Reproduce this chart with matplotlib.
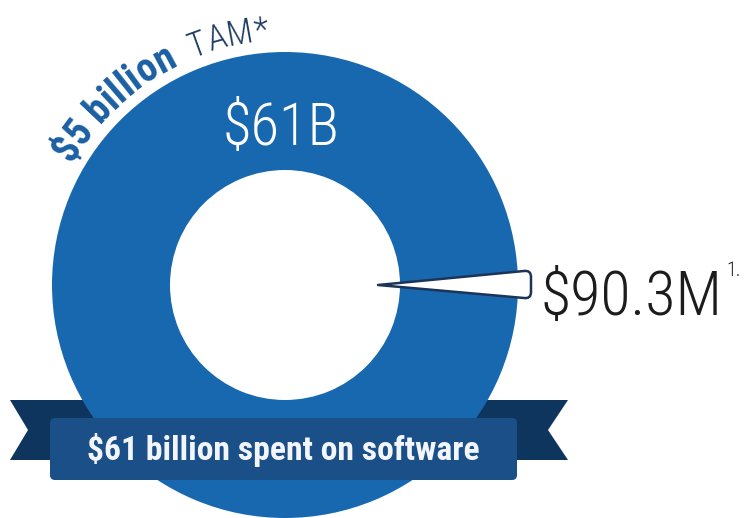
import numpy as np
import matplotlib
matplotlib.use("Agg")
import matplotlib.pyplot as plt
from matplotlib import font_manager
from matplotlib.font_manager import FontProperties
from matplotlib.patches import Wedge, Polygon, FancyBboxPatch, PathPatch
from matplotlib.path import Path

# ---- figures shown on the graphic ----
total_spend_billion = 61.0
total_label = "$61B"
segment_million = 90.3
segment_label = "$90.3M"
segment_note = "1."
tam_bold = "$5 billion"
tam_light = "TAM*"
banner_text = "$61 billion spent on software"

# ---- palette ----
RING = "#1868b0"
BANNER = "#1b4f88"
TAIL = "#0e355e"
TAM_BLUE = "#1b5fa3"
TAM_NAVY = "#1f3c63"
POINTER_EDGE = "#1b3457"
DARK_TEXT = "#1c1c1c"

W, H = 747, 518
fig = plt.figure(figsize=(W / 100, H / 100), dpi=100)
ax = fig.add_axes([0, 0, 1, 1])
ax.set_xlim(0, W)
ax.set_ylim(H, 0)
ax.axis("off")
renderer = fig.canvas.get_renderer()

installed = {f.name for f in font_manager.fontManager.ttflist}


def families(cands):
    return [c for c in cands if c in installed] + ["DejaVu Sans"]


COND = families(["Roboto Condensed", "Liberation Sans Narrow", "Open Sans Condensed", "Roboto"])
LIGHT = FontProperties(family=COND, weight="light", stretch="condensed")
HEAVY = FontProperties(family=COND, weight="black", stretch="condensed")


def text_w(s, fp):
    w, h, d = renderer.get_text_width_height_descent(s, fp, ismath=False)
    return w


def cap_h(fp):
    w, h, d = renderer.get_text_width_height_descent("H", fp, ismath=False)
    return h - d


def sized(fp, s, width=None, cap=None):
    ref = fp.copy()
    ref.set_size(100)
    sizes = []
    if width:
        sizes.append(100 * width / text_w(s, ref))
    if cap:
        sizes.append(100 * cap / cap_h(ref))
    out = fp.copy()
    out.set_size(min(sizes))
    return out


def advance(s, fp):
    if not s:
        return 0.0
    return text_w(s + "|", fp) - text_w("|", fp)


def arc_text(s, fp, color, center, radius, start_deg):
    """Lay characters along a circular baseline, running clockwise."""
    acx, acy = center
    for i, ch in enumerate(s):
        a0 = advance(s[:i], fp)
        a1 = advance(s[:i + 1], fp)
        if ch == " ":
            continue
        th = np.radians(start_deg) - (a0 + a1) / 2 / radius
        x = acx + radius * np.cos(th)
        y = acy - radius * np.sin(th)
        ax.text(x, y, ch, fontproperties=fp, color=color, ha="center", va="baseline",
                rotation=np.degrees(th) - 90, rotation_mode="anchor",
                parse_math=False, zorder=5)


# ---- ring ----
cx, cy = 285, 285
r_out, ring_w = 233, 118

# ribbon tails sit behind the ring
tail_top, tail_bot = 400, 460
left_tail = [(10, tail_top), (130, tail_top), (130, tail_bot), (10, tail_bot), (28, 430)]
right_tail = [(568, tail_top), (440, tail_top), (440, tail_bot), (568, tail_bot), (548, 430)]
for pts in (left_tail, right_tail):
    ax.add_patch(Polygon(pts, closed=True, facecolor=TAIL, edgecolor="none", zorder=1))

share = 360.0 * total_spend_billion / total_spend_billion
ax.add_patch(Wedge((cx, cy), r_out, 0, share, width=ring_w, facecolor=RING,
                   edgecolor="none", zorder=2))

# ---- pointer for the small segment ----
tip = (378, 285)
verts = [tip, (524, 271), (531, 270), (531, 277), (531, 292), (531, 299), (524, 298), tip]
codes = [Path.MOVETO, Path.LINETO, Path.CURVE3, Path.CURVE3, Path.LINETO,
         Path.CURVE3, Path.CURVE3, Path.CLOSEPOLY]
ax.add_patch(PathPatch(Path(verts, codes), facecolor="white", edgecolor=POINTER_EDGE,
                       linewidth=1.8, joinstyle="round", zorder=4))

# ---- value labels ----
fp61 = sized(LIGHT, total_label, width=117, cap=48)
ax.text(281.5, 145, total_label, fontproperties=fp61, color="white", ha="center",
        va="baseline", parse_math=False, zorder=5)

fp90 = sized(LIGHT, segment_label, width=182, cap=53)
ax.text(540, 315, segment_label, fontproperties=fp90, color=DARK_TEXT, ha="left",
        va="baseline", parse_math=False, zorder=5)
fpn = sized(LIGHT, segment_note, width=18, cap=14)
ax.text(726, 276, segment_note, fontproperties=fpn, color=DARK_TEXT, ha="left",
        va="baseline", parse_math=False, zorder=5)

# ---- banner front panel ----
ax.add_patch(FancyBboxPatch((50, 418), 467, 62, boxstyle="round,pad=0,rounding_size=5",
                            facecolor=BANNER, edgecolor="none", zorder=6))
fpb = sized(HEAVY, banner_text, width=403, cap=24)
ax.text(283.5, 460, banner_text, fontproperties=fpb, color="#f2f5f9", ha="center",
        va="baseline", parse_math=False, zorder=7)

# ---- curved TAM caption, concentric with the ring ----
arc_r = 245
fp_tb = sized(HEAVY, tam_bold, width=148, cap=32)
fp_tl = sized(LIGHT, tam_light, width=78, cap=28)
arc_text(tam_bold, fp_tb, TAM_BLUE, (cx, cy), arc_r, 150.5)
arc_text(tam_light, fp_tl, TAM_NAVY, (cx, cy), arc_r, 112.0)

fig.savefig("out.png", dpi=100)
